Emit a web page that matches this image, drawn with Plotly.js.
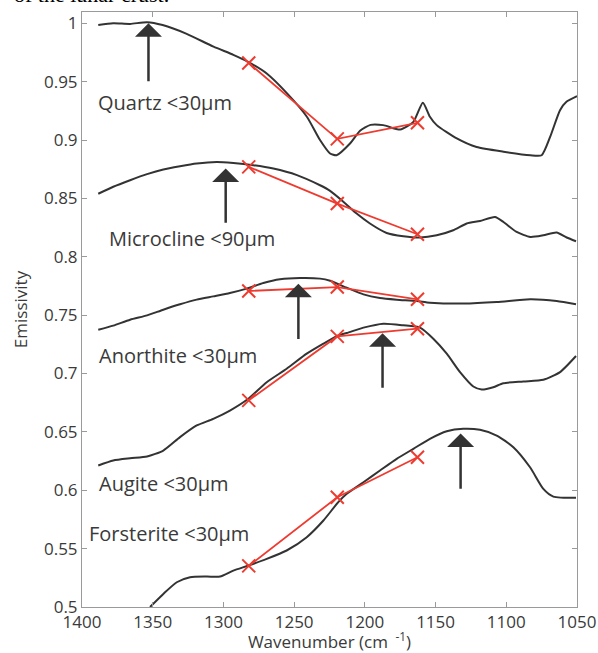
<!DOCTYPE html>
<html>
<head>
<meta charset="utf-8">
<script src="https://cdn.plot.ly/plotly-3.0.1.min.js"></script>
<style>html,body{margin:0;padding:0;background:#fff;}#chart{width:598px;height:653px;}</style>
</head>
<body>
<div id="chart"></div>
<script>
// Spectra (wavenumber cm^-1, emissivity)
const quartzX = [1388.5,1378,1366,1354,1343,1326,1307,1293,1282.6,1269.4,1255,1241,1231.7,1224.6,1220,1210.5,1203.4,1196,1187,1175,1165.7,1159,1154,1149.2,1135,1121,1102,1083,1075,1069,1062,1057.3,1050];
const quartzY = [0.9985,1.0,0.9995,1.001,0.9985,0.991,0.98,0.973,0.967,0.957,0.94,0.92,0.9,0.8885,0.887,0.897,0.908,0.913,0.9128,0.909,0.9156,0.932,0.92,0.9128,0.9014,0.894,0.89,0.887,0.887,0.9027,0.9256,0.933,0.9377];

const microX = [1388.5,1377.9,1366,1354,1342.5,1330.7,1318.9,1304.8,1293,1278.9,1264.7,1248,1231.7,1224.6,1215,1205.8,1196.4,1184.6,1172.8,1161,1149.2,1137.5,1128,1118.6,1108,1102,1092.7,1083,1073.8,1064.4,1057.3,1050.7];
const microY = [0.854,0.86,0.8656,0.8708,0.8748,0.8776,0.88,0.8813,0.8804,0.8785,0.8756,0.87,0.8613,0.8565,0.847,0.837,0.8285,0.8204,0.8176,0.8165,0.8184,0.8227,0.8285,0.8307,0.8341,0.8298,0.8213,0.817,0.8184,0.8208,0.8165,0.8133];

const anorX = [1388.5,1377.9,1366,1354,1342.5,1330.7,1318.9,1307.2,1295.4,1283.5,1271.8,1260,1245.9,1231.7,1224.6,1212.8,1201,1189.3,1177.5,1163.4,1154,1130.4,1106.8,1083,1064.4,1050.7];
const anorY = [0.7375,0.741,0.7461,0.7498,0.7547,0.7593,0.7633,0.7661,0.769,0.7727,0.7775,0.7807,0.7818,0.7813,0.7795,0.7735,0.7678,0.7647,0.7633,0.7621,0.7607,0.7599,0.7612,0.7636,0.7621,0.7593];

const augX = [1388.5,1377.9,1366,1354,1342.5,1330.7,1318.9,1307.2,1295.4,1282.4,1269.4,1255.3,1241.1,1229.3,1218.8,1212.8,1201,1186.9,1172.8,1161,1151.6,1142.1,1132.7,1123.3,1117.4,1109.2,1102.1,1088,1073.8,1062,1050.7];
const augY = [0.6212,0.6255,0.6274,0.6289,0.634,0.6455,0.6555,0.6612,0.6683,0.6784,0.6926,0.7041,0.717,0.7256,0.7327,0.7347,0.7393,0.7427,0.7413,0.7393,0.7298,0.717,0.7012,0.6889,0.6863,0.6883,0.6917,0.6932,0.6946,0.7012,0.715];

const forsX = [1351.9,1342.5,1333,1323.6,1311.8,1302.4,1293,1282.4,1269.4,1255.3,1241.1,1229.3,1218.8,1212.8,1201,1189.3,1177.5,1165.7,1154,1142.1,1130.4,1118.6,1106.8,1095,1083.2,1073.8,1066.7,1050.7];
const forsY = [0.5,0.5112,0.5212,0.5255,0.5261,0.5261,0.5312,0.5355,0.5412,0.5484,0.5598,0.5741,0.5898,0.597,0.6069,0.6169,0.6269,0.6355,0.6441,0.6506,0.6527,0.6518,0.6469,0.6369,0.6197,0.6012,0.5946,0.5935];

// Band-ratio points (7.8, 8.2, 8.6 µm)
const markX = [1282.1, 1219.5, 1162.8];
const quartzMark = [0.966, 0.901, 0.9148];
const microMark = [0.877, 0.8456, 0.8193];
const anorMark = [0.7707, 0.7741, 0.7636];
const augMark = [0.677, 0.7318, 0.7384];
const forsMark = [0.5352, 0.594, 0.6283];

// Christiansen feature arrows: x, tip y, tail y
const arrowX = [1353, 1298.4, 1247, 1187.5, 1132.3];
const arrowTip = [1.0, 0.8756, 0.777, 0.7345, 0.6486];
const arrowTail = [0.949, 0.8279, 0.7284, 0.6865, 0.6];

// Labels
const labelText = ["Quartz <30μm", "Microcline <90μm", "Anorthite <30μm", "Augite <30μm", "Forsterite <30μm"];
const labelX = [1390, 1382.5, 1389.6, 1389.6, 1396.7];
const labelY = [0.9319, 0.8156, 0.7155, 0.606, 0.5629];

const xTicks = [1400, 1350, 1300, 1250, 1200, 1150, 1100, 1050];
const yTicks = [0.5, 0.55, 0.6, 0.65, 0.7, 0.75, 0.8, 0.85, 0.9, 0.95, 1];
const yTickText = ["0.5", "0.55", "0.6", "0.65", "0.7", "0.75", "0.8", "0.85", "0.9", "0.95", "1"];

const curveColor = '#333333';
const redColor = '#ee3b30';
const txtColor = '#3a3a3a';

const spectra = [[quartzX, quartzY], [microX, microY], [anorX, anorY], [augX, augY], [forsX, forsY]];
const marks = [quartzMark, microMark, anorMark, augMark, forsMark];

const traces = [];
spectra.forEach(s => traces.push({
  x: s[0], y: s[1], mode: 'lines', type: 'scatter',
  line: {color: curveColor, width: 2, shape: 'spline', smoothing: 0.6},
  hoverinfo: 'skip', showlegend: false
}));
marks.forEach(m => traces.push({
  x: markX, y: m, mode: 'lines+markers', type: 'scatter',
  line: {color: redColor, width: 1.8},
  marker: {symbol: 'x-thin-open', size: 13, line: {color: redColor, width: 2}},
  hoverinfo: 'skip', showlegend: false
}));

const annotations = [];
arrowX.forEach((x, i) => annotations.push({
  x: x, y: arrowTip[i], ax: x, ay: arrowTail[i], axref: 'x', ayref: 'y', xref: 'x', yref: 'y',
  text: '', showarrow: true, arrowhead: 1, arrowsize: 1.8, arrowwidth: 2.5, arrowcolor: curveColor, standoff: 0
}));
labelText.forEach((t, i) => annotations.push({
  x: labelX[i], y: labelY[i], xref: 'x', yref: 'y', text: t, showarrow: false,
  xanchor: 'left', yanchor: 'middle', font: {family: 'Open Sans', size: 20, color: txtColor}
}));
annotations.push({
  x: 0.0, y: 1.029, xref: 'paper', yref: 'paper', xanchor: 'left', yanchor: 'middle',
  xshift: -70, text: 'of the lunar crust.', showarrow: false,
  font: {family: 'Liberation Serif', size: 22, color: '#000'}
});

const axisCommon = {
  showline: true, mirror: 'ticks', linecolor: '#9a9a9a', linewidth: 1,
  ticks: 'inside', ticklen: 5, tickcolor: '#9a9a9a', showgrid: false, zeroline: false,
  tickfont: {family: 'Open Sans', size: 17, color: txtColor}
};

const layout = {
  width: 598, height: 653,
  margin: {l: 82, r: 21, t: 12, b: 46, pad: 0},
  paper_bgcolor: '#fff', plot_bgcolor: '#fff',
  xaxis: Object.assign({}, axisCommon, {
    range: [1400, 1050], tickvals: xTicks, ticktext: xTicks.map(String),
    title: {text: 'Wavenumber (cm <sup> -1</sup>)', standoff: 4, font: {family: 'Open Sans', size: 17, color: txtColor}}
  }),
  yaxis: Object.assign({}, axisCommon, {
    range: [0.5, 1.0097], tickvals: yTicks, ticktext: yTickText,
    title: {text: 'Emissivity', standoff: 12, font: {family: 'Open Sans', size: 17, color: txtColor}}
  }),
  annotations: annotations
};

Plotly.newPlot('chart', traces, layout, {displayModeBar: false, staticPlot: true});
</script>
</body>
</html>
